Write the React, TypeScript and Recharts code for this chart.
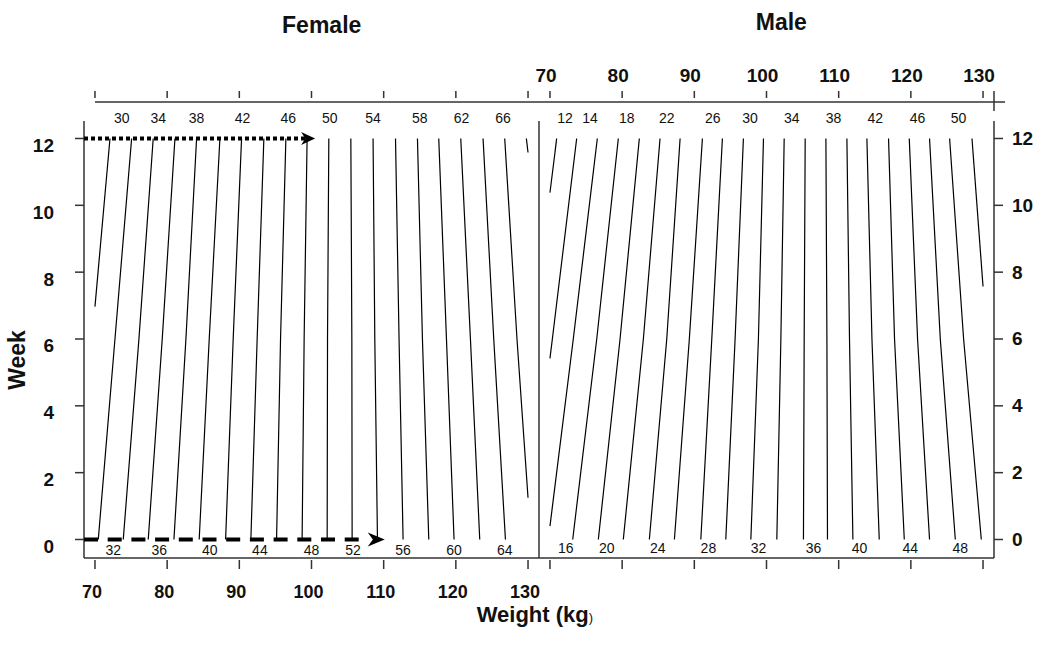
import { ComposedChart, Line, ReferenceLine, Scatter, XAxis, YAxis } from "recharts";

const FONT = "'Liberation Sans', Arial, Helvetica, sans-serif";
const AXIS_COLOR = "#333";
const INK = "#111";

// axis ranges (both panels share the same weight range)
const X_DOMAIN: [number, number] = [68.48, 131.52];
const Y_DOMAIN: [number, number] = [-0.554, 13.092];
const BOX_TOP = 12.524;
const WEIGHT_TICKS = [70, 80, 90, 100, 110, 120, 130];
const WEEK_TICKS = [0, 2, 4, 6, 8, 10, 12];

// female curves: weight (kg) where each curve crosses week 0, 6 and 12
const FEMALE_LEVELS = [30, 32, 34, 36, 38, 40, 42, 44, 46, 48, 50, 52, 54, 56, 58, 60, 62, 64, 66, 68];
const FEMALE_WEEK0 = [null, 70.46, 73.92, 77.38, 80.94, 84.44, 88.1, 91.6, 95.16, 98.7, 102.17, 105.63, 109.14, 112.69, 116.25, 119.75, 123.31, 126.87, null, null];
const FEMALE_WEEK6 = [null, 72.77, 76.09, 79.32, 82.6, 85.83, 89.15, 92.47, 95.71, 98.98, 102.22, 105.59, 108.77, 112.13, 115.37, 118.7, 122.02, 125.25, 128.47, null];
const FEMALE_WEEK12 = [72.08, 75.08, 78.07, 81.08, 84.08, 87.31, 90.31, 93.4, 96.45, 99.39, 102.4, 105.45, 108.53, 111.64, 114.68, 117.63, 120.68, 123.77, 126.77, 129.77];
// [level, weight, week] where a curve runs out of the panel
const FEMALE_EDGES: [number, number, number][] = [[30, 70, 6.97], [66, 130, 1.25], [68, 130, 11.58]];

// male curves
const MALE_LEVELS = [12, 14, 16, 18, 20, 22, 24, 26, 28, 30, 32, 34, 36, 38, 40, 42, 44, 46, 48, 50, 52];
const MALE_WEEK0 = [null, null, null, 73.15, 76.7, 80.16, 83.77, 87.24, 90.9, 94.36, 97.83, 101.43, 105.12, 108.45, 111.97, 115.62, 119.09, 122.59, 126.16, 129.76, null];
const MALE_WEEK6 = [null, 70.33, 73.23, 76.48, 79.71, 82.94, 86.18, 89.31, 92.42, 95.65, 98.88, 101.99, 105.22, 108.37, 111.5, 114.61, 117.74, 120.93, 124.08, 127.31, null];
const MALE_WEEK12 = [70.93, 73.7, 76.56, 79.47, 82.38, 85.25, 88.03, 91.12, 93.89, 96.8, 99.58, 102.45, 105.36, 108.23, 111.14, 113.91, 116.91, 119.78, 122.59, 125.37, 128.47];
const MALE_EDGES: [number, number, number][] = [[12, 70, 10.38], [14, 70, 5.42], [16, 70, 0.4], [52, 130, 7.57]];

// curve labels
const FEMALE_TOP_LABELS = [30, 34, 38, 42, 46, 50, 54, 58, 62, 66];
const FEMALE_TOP_LABEL_W = [73.7, 78.76, 84.08, 90.45, 96.77, 102.54, 108.53, 115.0, 120.78, 126.54];
const FEMALE_BOTTOM_LABELS = [32, 36, 40, 44, 48, 52, 56, 60, 64];
const FEMALE_BOTTOM_LABEL_W = [72.53, 78.9, 85.92, 92.85, 100.0, 105.76, 112.69, 119.75, 126.77];
const MALE_TOP_LABELS = [12, 14, 18, 22, 26, 30, 34, 38, 42, 46, 50];
const MALE_TOP_LABEL_W = [72.08, 75.55, 80.63, 86.18, 92.56, 97.73, 103.51, 109.28, 115.06, 120.93, 126.61];
const MALE_BOTTOM_LABELS = [16, 20, 24, 28, 32, 36, 40, 44, 48];
const MALE_BOTTOM_LABEL_W = [72.18, 77.86, 84.93, 91.95, 98.88, 106.51, 112.89, 119.92, 126.85];
const TOP_LABEL_WEEK = 12.6;
const FEMALE_BOTTOM_LABEL_WEEK = -0.31;
const MALE_BOTTOM_LABEL_WEEK = -0.24;

// example arrows (female panel)
const DOTTED_ARROW = { week: 12, from: 68.48, to: 100.5 };
const DASHED_ARROW = { week: 0, from: 68.48, to: 110.15 };

type Pt = { w: number; wk: number };

function buildCurves(levels: number[], wk0: (number | null)[], wk6: (number | null)[], wk12: (number | null)[], edges: [number, number, number][]) {
  return levels.map((level, i) => {
    const pts: Pt[] = [];
    if (wk0[i] != null) pts.push({ w: wk0[i] as number, wk: 0 });
    if (wk6[i] != null) pts.push({ w: wk6[i] as number, wk: 6 });
    if (wk12[i] != null) pts.push({ w: wk12[i] as number, wk: 12 });
    edges.filter((e) => e[0] === level).forEach((e) => pts.push({ w: e[1], wk: e[2] }));
    pts.sort((a, b) => a.wk - b.wk);
    return { level, pts };
  });
}

function buildLabels(labels: number[], weights: number[], week: number) {
  return labels.map((label, i) => ({ w: weights[i], wk: week, label }));
}

const femaleCurves = buildCurves(FEMALE_LEVELS, FEMALE_WEEK0, FEMALE_WEEK6, FEMALE_WEEK12, FEMALE_EDGES);
const maleCurves = buildCurves(MALE_LEVELS, MALE_WEEK0, MALE_WEEK6, MALE_WEEK12, MALE_EDGES);
const femaleLabels = [
  ...buildLabels(FEMALE_TOP_LABELS, FEMALE_TOP_LABEL_W, TOP_LABEL_WEEK),
  ...buildLabels(FEMALE_BOTTOM_LABELS, FEMALE_BOTTOM_LABEL_W, FEMALE_BOTTOM_LABEL_WEEK),
];
const maleLabels = [
  ...buildLabels(MALE_TOP_LABELS, MALE_TOP_LABEL_W, TOP_LABEL_WEEK),
  ...buildLabels(MALE_BOTTOM_LABELS, MALE_BOTTOM_LABEL_W, MALE_BOTTOM_LABEL_WEEK),
];

const CurveLabel = (props: any) => (
  <text x={props.cx} y={props.cy + 5} textAnchor="middle" fontFamily={FONT} fontSize={14} fill={INK}>
    {props.payload.label}
  </text>
);

const ArrowHead = (props: any) => {
  const { cx, cy } = props;
  const len = props.payload.len;
  const half = props.payload.half;
  return <polygon points={`${cx},${cy} ${cx - len},${cy - half} ${cx - len * 0.7},${cy} ${cx - len},${cy + half}`} fill="#000" />;
};

// tick renderers (tickSize/tickMargin are 0, so x/y sit on the axis line)
const BottomTick = (props: any) => (
  <g>
    <line x1={props.x} x2={props.x} y1={props.y + 2} y2={props.y + 11} stroke={AXIS_COLOR} strokeWidth={1.5} />
    {props.showLabel ? (
      <text x={props.x - 3} y={props.y + 40} textAnchor="middle" fontFamily={FONT} fontWeight="bold" fontSize={18} fill={INK}>
        {props.payload.value}
      </text>
    ) : null}
  </g>
);

const TopTick = (props: any) => (
  <g>
    <line x1={props.x} x2={props.x} y1={props.y - 4} y2={props.y - 11} stroke={AXIS_COLOR} strokeWidth={1.5} />
    {props.showLabel ? (
      <text x={props.x - 4} y={props.y - 20} textAnchor="middle" fontFamily={FONT} fontWeight="bold" fontSize={19} fill={INK}>
        {props.payload.value}
      </text>
    ) : null}
  </g>
);

const LeftTick = (props: any) => (
  <g>
    <line x1={props.x - 9} x2={props.x} y1={props.y} y2={props.y} stroke={AXIS_COLOR} strokeWidth={1.5} />
    <text x={props.x - 30} y={props.y + 13.5} textAnchor="end" fontFamily={FONT} fontWeight="bold" fontSize={19} fill={INK}>
      {props.payload.value}
    </text>
  </g>
);

const RightTick = (props: any) => (
  <g>
    <line x1={props.x} x2={props.x + 9} y1={props.y} y2={props.y} stroke={AXIS_COLOR} strokeWidth={1.5} />
    <text x={props.x + 18} y={props.y + 6.5} textAnchor="start" fontFamily={FONT} fontWeight="bold" fontSize={19} fill={INK}>
      {props.payload.value}
    </text>
  </g>
);

function Panel({ sex }: { sex: "female" | "male" }) {
  const female = sex === "female";
  const curves = female ? femaleCurves : maleCurves;
  const labels = female ? femaleLabels : maleLabels;
  const border = { stroke: AXIS_COLOR, strokeWidth: 1.5, ifOverflow: "visible" as const, xAxisId: "bottom" };

  return (
    <ComposedChart
      width={female ? 560 : 550}
      height={653}
      margin={female ? { top: 0, right: 21, bottom: 0, left: 0 } : { top: 0, right: 0, bottom: 0, left: 39 }}
    >
      <XAxis
        xAxisId="top"
        orientation="top"
        type="number"
        dataKey="w"
        domain={X_DOMAIN}
        allowDataOverflow
        ticks={WEIGHT_TICKS}
        interval={0}
        height={102}
        axisLine={false}
        tickLine={false}
        tickSize={0}
        tickMargin={0}
        tick={(p: any) => <TopTick {...p} showLabel={!female} />}
      />
      <XAxis
        xAxisId="bottom"
        orientation="bottom"
        type="number"
        dataKey="w"
        domain={X_DOMAIN}
        allowDataOverflow
        ticks={WEIGHT_TICKS}
        interval={0}
        height={95}
        axisLine={{ stroke: AXIS_COLOR, strokeWidth: 1.5 }}
        tickLine={false}
        tickSize={0}
        tickMargin={0}
        tick={(p: any) => <BottomTick {...p} showLabel={female} />}
      />
      <YAxis
        orientation={female ? "left" : "right"}
        type="number"
        dataKey="wk"
        domain={Y_DOMAIN}
        allowDataOverflow
        ticks={WEEK_TICKS}
        interval={0}
        width={female ? 84 : 56}
        axisLine={false}
        tickLine={false}
        tickSize={0}
        tickMargin={0}
        tick={female ? LeftTick : RightTick}
      />

      {/* frame and top axis line */}
      <ReferenceLine {...border} segment={[{ x: female ? 70 : X_DOMAIN[0], y: Y_DOMAIN[1] }, { x: female ? X_DOMAIN[1] : 133.05, y: Y_DOMAIN[1] }]} />
      {female ? (
        <ReferenceLine {...border} segment={[{ x: X_DOMAIN[0], y: Y_DOMAIN[0] }, { x: X_DOMAIN[0], y: BOX_TOP }]} />
      ) : null}
      <ReferenceLine {...border} segment={[{ x: X_DOMAIN[1], y: Y_DOMAIN[0] }, { x: X_DOMAIN[1], y: BOX_TOP }]} />
      {!female ? (
        <ReferenceLine {...border} segment={[{ x: X_DOMAIN[1], y: 12.82 }, { x: X_DOMAIN[1], y: 13.42 }]} />
      ) : null}

      {curves.map((c) => (
        <Line
          key={c.level}
          xAxisId="bottom"
          data={c.pts}
          dataKey="wk"
          type="linear"
          stroke="#000"
          strokeWidth={1.2}
          dot={false}
          activeDot={false}
          isAnimationActive={false}
        />
      ))}

      <Scatter xAxisId="bottom" data={labels} shape={CurveLabel} isAnimationActive={false} />

      {female ? (
        <Line
          xAxisId="bottom"
          data={[{ w: DOTTED_ARROW.from, wk: DOTTED_ARROW.week }, { w: DOTTED_ARROW.to - 1.3, wk: DOTTED_ARROW.week }]}
          dataKey="wk"
          stroke="#000"
          strokeWidth={4}
          strokeDasharray="4 3"
          dot={false}
          activeDot={false}
          isAnimationActive={false}
        />
      ) : null}
      {female ? (
        <Line
          xAxisId="bottom"
          data={[{ w: DASHED_ARROW.from, wk: DASHED_ARROW.week }, { w: DASHED_ARROW.to - 2.5, wk: DASHED_ARROW.week }]}
          dataKey="wk"
          stroke="#000"
          strokeWidth={4}
          strokeDasharray="14 9.7"
          dot={false}
          activeDot={false}
          isAnimationActive={false}
        />
      ) : null}
      {female ? (
        <Scatter
          xAxisId="bottom"
          data={[
            { w: DOTTED_ARROW.to, wk: DOTTED_ARROW.week, len: 14, half: 6.5 },
            { w: DASHED_ARROW.to, wk: DASHED_ARROW.week, len: 17, half: 7 },
          ]}
          shape={ArrowHead}
          isAnimationActive={false}
        />
      ) : null}
    </ComposedChart>
  );
}

export default function App() {
  return (
    <div style={{ position: "absolute", left: 0, top: 0, width: 1050, height: 653, background: "#fff", overflow: "hidden" }}>
      <div style={{ position: "absolute", left: 0, top: 0 }}>
        <Panel sex="female" />
      </div>
      <div style={{ position: "absolute", left: 500, top: 0 }}>
        <Panel sex="male" />
      </div>
      <svg width={1050} height={653} style={{ position: "absolute", left: 0, top: 0, pointerEvents: "none" }}>
        <text x={321.7} y={33} textAnchor="middle" fontFamily={FONT} fontWeight="bold" fontSize={23} fill={INK}>
          Female
        </text>
        <text x={781.3} y={30} textAnchor="middle" fontFamily={FONT} fontWeight="bold" fontSize={23} fill={INK}>
          Male
        </text>
        <text x={25} y={360} transform="rotate(-90 25 360)" textAnchor="middle" fontFamily={FONT} fontWeight="bold" fontSize={23} fill={INK}>
          Week
        </text>
        <text x={476.7} y={622} fontFamily={FONT} fontWeight="bold" fontSize={22} fill={INK}>
          Weight (kg<tspan fontWeight="normal" fontSize={13}>)</tspan>
        </text>
      </svg>
    </div>
  );
}
